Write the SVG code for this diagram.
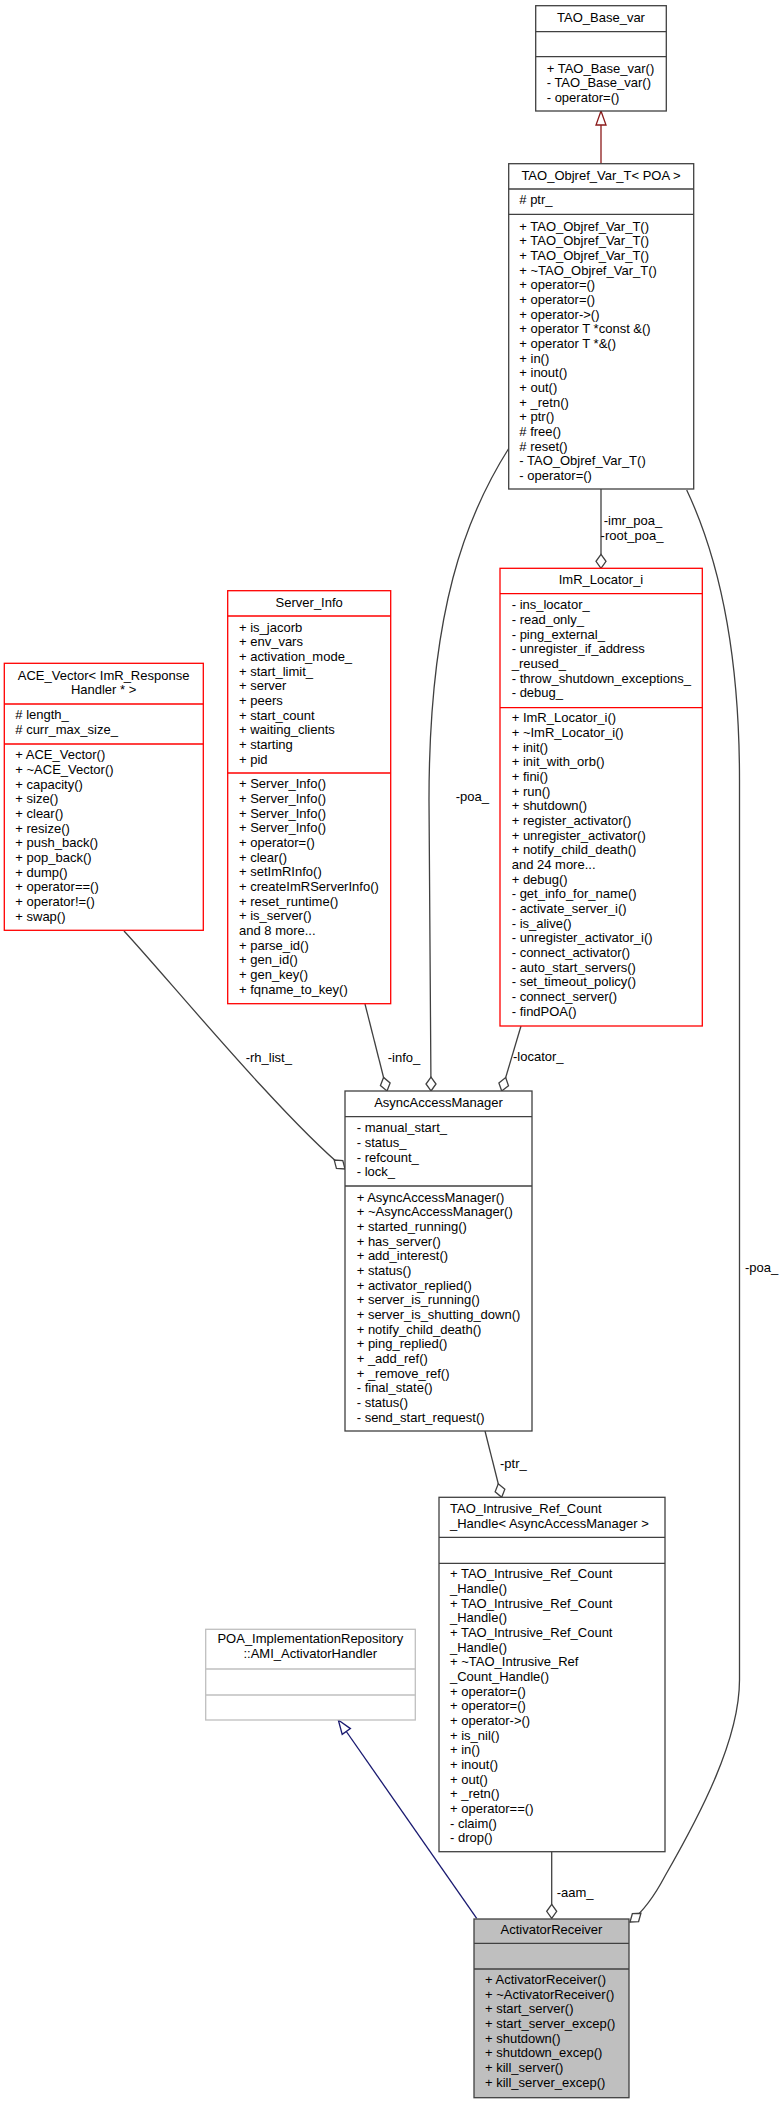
<svg xmlns="http://www.w3.org/2000/svg" width="783" height="2104" viewBox="0 0 783 2104">
<style>
text{font-family:"Liberation Sans",Arial,Helvetica,sans-serif;font-size:13px;fill:#000}
.c{text-anchor:middle}
.box{fill:#fff;stroke:#404040;stroke-width:1.3}
.red{fill:#fff;stroke:#ff0000;stroke-width:1.3}
.gray{fill:#fff;stroke:#bfbfbf;stroke-width:1.3}
.sel{fill:#bfbfbf;stroke:#404040;stroke-width:1.3}
.sep{stroke:#404040;stroke-width:1.3}
.sepr{stroke:#ff0000;stroke-width:1.3}
.sepg{stroke:#bfbfbf;stroke-width:1.3}
.edge{fill:none;stroke:#404040;stroke-width:1.3}
</style>
<defs>
<marker id="dia" viewBox="0 0 16 12" markerWidth="16" markerHeight="12" refX="15" refY="6" orient="auto" markerUnits="userSpaceOnUse" overflow="visible"><path d="M15,6 L8,1 L1,6 L8,11 Z" fill="#fff" stroke="#404040" stroke-width="1.3"/></marker>
<marker id="triR" viewBox="0 0 16 12" markerWidth="16" markerHeight="12" refX="15" refY="6" orient="auto" markerUnits="userSpaceOnUse" overflow="visible"><path d="M15,6 L1,1 L1,11 Z" fill="#fff" stroke="#8b1a1a" stroke-width="1.3"/></marker>
<marker id="triB" viewBox="0 0 16 12" markerWidth="16" markerHeight="12" refX="15" refY="6" orient="auto" markerUnits="userSpaceOnUse" overflow="visible"><path d="M15,6 L1,1 L1,11 Z" fill="#fff" stroke="#191970" stroke-width="1.3"/></marker>
</defs>

<g id="connectors">
<path d="M601,163.7 L601,111" fill="none" stroke="#8b1a1a" stroke-width="1.3" marker-end="url(#triR)"/>
<path class="edge" d="M601,489 L601,568.3" marker-end="url(#dia)"/>
<text x="633" y="525" class="c">-imr_poa_</text>
<text x="632" y="540" class="c">-root_poa_</text>
<path class="edge" d="M509,448 C466,516 429,610 429,800 C429,900 431,1000 431,1091" marker-end="url(#dia)"/>
<text x="455.7" y="801">-poa_</text>
<path class="edge" d="M686.7,490 C715,550 739.5,640 739.5,780 L739.5,1680 C739.5,1740 700,1815 665,1876 C655,1895 645,1910 630,1922" marker-end="url(#dia)"/>
<text x="745" y="1272">-poa_</text>
<path class="edge" d="M365,1004 L387,1091" marker-end="url(#dia)"/>
<text x="387.7" y="1061.7">-info_</text>
<path class="edge" d="M521,1026 L501.7,1091" marker-end="url(#dia)"/>
<text x="513" y="1061">-locator_</text>
<path class="edge" d="M124,931 C165,975 280,1115 345,1169" marker-end="url(#dia)"/>
<text x="245.7" y="1061.7">-rh_list_</text>
<path class="edge" d="M485,1431 L501.7,1497.3" marker-end="url(#dia)"/>
<text x="500" y="1468.3">-ptr_</text>
<path class="edge" d="M551.7,1851.7 L551.7,1918.3" marker-end="url(#dia)"/>
<text x="556.7" y="1896.7">-aam_</text>
<path d="M476.7,1918.3 L338.3,1720" fill="none" stroke="#191970" stroke-width="1.3" marker-end="url(#triB)"/>
</g>

<g id="TAO_Base_var">
<rect class="box" x="535.7" y="5.7" width="130.6" height="105.3"/>
<line class="sep" x1="535.7" y1="31.7" x2="666.3" y2="31.7"/>
<line class="sep" x1="535.7" y1="56.7" x2="666.3" y2="56.7"/>
<text x="601" y="22" class="c">TAO_Base_var</text>
<text x="546.7" y="72.7">+ TAO_Base_var()<tspan x="546.7" dy="14.667">- TAO_Base_var()</tspan><tspan x="546.7" dy="14.667">- operator=()</tspan></text>
</g>

<g id="TAO_Objref_Var_T">
<rect class="box" x="508.7" y="163.7" width="185" height="325.3"/>
<line class="sep" x1="508.7" y1="189" x2="693.7" y2="189"/>
<line class="sep" x1="508.7" y1="214.3" x2="693.7" y2="214.3"/>
<text x="601" y="180" class="c">TAO_Objref_Var_T&lt; POA &gt;</text>
<text x="519.3" y="204.3"># ptr_</text>
<text x="519.3" y="230.7">+ TAO_Objref_Var_T()<tspan x="519.3" dy="14.667">+ TAO_Objref_Var_T()</tspan><tspan x="519.3" dy="14.667">+ TAO_Objref_Var_T()</tspan><tspan x="519.3" dy="14.667">+ ~TAO_Objref_Var_T()</tspan><tspan x="519.3" dy="14.667">+ operator=()</tspan><tspan x="519.3" dy="14.667">+ operator=()</tspan><tspan x="519.3" dy="14.667">+ operator-&gt;()</tspan><tspan x="519.3" dy="14.667">+ operator T *const &amp;()</tspan><tspan x="519.3" dy="14.667">+ operator T *&amp;()</tspan><tspan x="519.3" dy="14.667">+ in()</tspan><tspan x="519.3" dy="14.667">+ inout()</tspan><tspan x="519.3" dy="14.667">+ out()</tspan><tspan x="519.3" dy="14.667">+ _retn()</tspan><tspan x="519.3" dy="14.667">+ ptr()</tspan><tspan x="519.3" dy="14.667"># free()</tspan><tspan x="519.3" dy="14.667"># reset()</tspan><tspan x="519.3" dy="14.667">- TAO_Objref_Var_T()</tspan><tspan x="519.3" dy="14.667">- operator=()</tspan></text>
</g>

<g id="ImR_Locator_i">
<rect class="red" x="500" y="568.3" width="202.3" height="457.7"/>
<line class="sepr" x1="500" y1="593.7" x2="702.3" y2="593.7"/>
<line class="sepr" x1="500" y1="707.7" x2="702.3" y2="707.7"/>
<text x="601" y="584" class="c">ImR_Locator_i</text>
<text x="511.7" y="609.3">- ins_locator_<tspan x="511.7" dy="14.667">- read_only_</tspan><tspan x="511.7" dy="14.667">- ping_external_</tspan><tspan x="511.7" dy="14.667">- unregister_if_address</tspan><tspan x="511.7" dy="14.667">_reused_</tspan><tspan x="511.7" dy="14.667">- throw_shutdown_exceptions_</tspan><tspan x="511.7" dy="14.667">- debug_</tspan></text>
<text x="511.7" y="722.3">+ ImR_Locator_i()<tspan x="511.7" dy="14.667">+ ~ImR_Locator_i()</tspan><tspan x="511.7" dy="14.667">+ init()</tspan><tspan x="511.7" dy="14.667">+ init_with_orb()</tspan><tspan x="511.7" dy="14.667">+ fini()</tspan><tspan x="511.7" dy="14.667">+ run()</tspan><tspan x="511.7" dy="14.667">+ shutdown()</tspan><tspan x="511.7" dy="14.667">+ register_activator()</tspan><tspan x="511.7" dy="14.667">+ unregister_activator()</tspan><tspan x="511.7" dy="14.667">+ notify_child_death()</tspan><tspan x="511.7" dy="14.667">and 24 more...</tspan><tspan x="511.7" dy="14.667">+ debug()</tspan><tspan x="511.7" dy="14.667">- get_info_for_name()</tspan><tspan x="511.7" dy="14.667">- activate_server_i()</tspan><tspan x="511.7" dy="14.667">- is_alive()</tspan><tspan x="511.7" dy="14.667">- unregister_activator_i()</tspan><tspan x="511.7" dy="14.667">- connect_activator()</tspan><tspan x="511.7" dy="14.667">- auto_start_servers()</tspan><tspan x="511.7" dy="14.667">- set_timeout_policy()</tspan><tspan x="511.7" dy="14.667">- connect_server()</tspan><tspan x="511.7" dy="14.667">- findPOA()</tspan></text>
</g>

<g id="Server_Info">
<rect class="red" x="227.7" y="590.7" width="163" height="413"/>
<line class="sepr" x1="227.7" y1="616" x2="390.7" y2="616"/>
<line class="sepr" x1="227.7" y1="773" x2="390.7" y2="773"/>
<text x="309.2" y="606.7" class="c">Server_Info</text>
<text x="239" y="631.7">+ is_jacorb<tspan x="239" dy="14.667">+ env_vars</tspan><tspan x="239" dy="14.667">+ activation_mode_</tspan><tspan x="239" dy="14.667">+ start_limit_</tspan><tspan x="239" dy="14.667">+ server</tspan><tspan x="239" dy="14.667">+ peers</tspan><tspan x="239" dy="14.667">+ start_count</tspan><tspan x="239" dy="14.667">+ waiting_clients</tspan><tspan x="239" dy="14.667">+ starting</tspan><tspan x="239" dy="14.667">+ pid</tspan></text>
<text x="239" y="788.3">+ Server_Info()<tspan x="239" dy="14.667">+ Server_Info()</tspan><tspan x="239" dy="14.667">+ Server_Info()</tspan><tspan x="239" dy="14.667">+ Server_Info()</tspan><tspan x="239" dy="14.667">+ operator=()</tspan><tspan x="239" dy="14.667">+ clear()</tspan><tspan x="239" dy="14.667">+ setImRInfo()</tspan><tspan x="239" dy="14.667">+ createImRServerInfo()</tspan><tspan x="239" dy="14.667">+ reset_runtime()</tspan><tspan x="239" dy="14.667">+ is_server()</tspan><tspan x="239" dy="14.667">and 8 more...</tspan><tspan x="239" dy="14.667">+ parse_id()</tspan><tspan x="239" dy="14.667">+ gen_id()</tspan><tspan x="239" dy="14.667">+ gen_key()</tspan><tspan x="239" dy="14.667">+ fqname_to_key()</tspan></text>
</g>

<g id="ACE_Vector">
<rect class="red" x="4.3" y="663.3" width="199" height="267"/>
<line class="sepr" x1="4.3" y1="704" x2="203.3" y2="704"/>
<line class="sepr" x1="4.3" y1="744" x2="203.3" y2="744"/>
<text x="103.6" y="680" class="c">ACE_Vector&lt; ImR_Response<tspan x="103.6" dy="14.333">Handler * &gt;</tspan></text>
<text x="15.3" y="719.3"># length_<tspan x="15.3" dy="14.667"># curr_max_size_</tspan></text>
<text x="15.3" y="759.3">+ ACE_Vector()<tspan x="15.3" dy="14.667">+ ~ACE_Vector()</tspan><tspan x="15.3" dy="14.667">+ capacity()</tspan><tspan x="15.3" dy="14.667">+ size()</tspan><tspan x="15.3" dy="14.667">+ clear()</tspan><tspan x="15.3" dy="14.667">+ resize()</tspan><tspan x="15.3" dy="14.667">+ push_back()</tspan><tspan x="15.3" dy="14.667">+ pop_back()</tspan><tspan x="15.3" dy="14.667">+ dump()</tspan><tspan x="15.3" dy="14.667">+ operator==()</tspan><tspan x="15.3" dy="14.667">+ operator!=()</tspan><tspan x="15.3" dy="14.667">+ swap()</tspan></text>
</g>

<g id="AsyncAccessManager">
<rect class="box" x="345" y="1091" width="187" height="340"/>
<line class="sep" x1="345" y1="1116.7" x2="532" y2="1116.7"/>
<line class="sep" x1="345" y1="1186" x2="532" y2="1186"/>
<text x="438.5" y="1106.7" class="c">AsyncAccessManager</text>
<text x="356.7" y="1132.3">- manual_start_<tspan x="356.7" dy="14.667">- status_</tspan><tspan x="356.7" dy="14.667">- refcount_</tspan><tspan x="356.7" dy="14.667">- lock_</tspan></text>
<text x="356.7" y="1201.7">+ AsyncAccessManager()<tspan x="356.7" dy="14.667">+ ~AsyncAccessManager()</tspan><tspan x="356.7" dy="14.667">+ started_running()</tspan><tspan x="356.7" dy="14.667">+ has_server()</tspan><tspan x="356.7" dy="14.667">+ add_interest()</tspan><tspan x="356.7" dy="14.667">+ status()</tspan><tspan x="356.7" dy="14.667">+ activator_replied()</tspan><tspan x="356.7" dy="14.667">+ server_is_running()</tspan><tspan x="356.7" dy="14.667">+ server_is_shutting_down()</tspan><tspan x="356.7" dy="14.667">+ notify_child_death()</tspan><tspan x="356.7" dy="14.667">+ ping_replied()</tspan><tspan x="356.7" dy="14.667">+ _add_ref()</tspan><tspan x="356.7" dy="14.667">+ _remove_ref()</tspan><tspan x="356.7" dy="14.667">- final_state()</tspan><tspan x="356.7" dy="14.667">- status()</tspan><tspan x="356.7" dy="14.667">- send_start_request()</tspan></text>
</g>

<g id="TAO_Intrusive_Ref_Count_Handle">
<rect class="box" x="439" y="1497.3" width="226" height="354.4"/>
<line class="sep" x1="439" y1="1537.3" x2="665" y2="1537.3"/>
<line class="sep" x1="439" y1="1563.3" x2="665" y2="1563.3"/>
<text x="450" y="1513.3">TAO_Intrusive_Ref_Count<tspan x="450" dy="14.4">_Handle&lt; AsyncAccessManager &gt;</tspan></text>
<text x="450" y="1578.3">+ TAO_Intrusive_Ref_Count<tspan x="450" dy="14.667">_Handle()</tspan><tspan x="450" dy="14.667">+ TAO_Intrusive_Ref_Count</tspan><tspan x="450" dy="14.667">_Handle()</tspan><tspan x="450" dy="14.667">+ TAO_Intrusive_Ref_Count</tspan><tspan x="450" dy="14.667">_Handle()</tspan><tspan x="450" dy="14.667">+ ~TAO_Intrusive_Ref</tspan><tspan x="450" dy="14.667">_Count_Handle()</tspan><tspan x="450" dy="14.667">+ operator=()</tspan><tspan x="450" dy="14.667">+ operator=()</tspan><tspan x="450" dy="14.667">+ operator-&gt;()</tspan><tspan x="450" dy="14.667">+ is_nil()</tspan><tspan x="450" dy="14.667">+ in()</tspan><tspan x="450" dy="14.667">+ inout()</tspan><tspan x="450" dy="14.667">+ out()</tspan><tspan x="450" dy="14.667">+ _retn()</tspan><tspan x="450" dy="14.667">+ operator==()</tspan><tspan x="450" dy="14.667">- claim()</tspan><tspan x="450" dy="14.667">- drop()</tspan></text>
</g>

<g id="POA_ImplementationRepository_AMI_ActivatorHandler">
<rect class="gray" x="205.7" y="1629.3" width="209.6" height="90.7"/>
<line class="sepg" x1="205.7" y1="1669" x2="415.3" y2="1669"/>
<line class="sepg" x1="205.7" y1="1695" x2="415.3" y2="1695"/>
<text x="310.3" y="1643.3" class="c">POA_ImplementationRepository<tspan x="310.3" dy="15">::AMI_ActivatorHandler</tspan></text>
</g>

<g id="ActivatorReceiver">
<rect class="sel" x="474" y="1919" width="155" height="178.7"/>
<line class="sep" x1="474" y1="1943.3" x2="629" y2="1943.3"/>
<line class="sep" x1="474" y1="1969" x2="629" y2="1969"/>
<text x="551.5" y="1934.3" class="c">ActivatorReceiver</text>
<text x="485" y="1984">+ ActivatorReceiver()<tspan x="485" dy="14.667">+ ~ActivatorReceiver()</tspan><tspan x="485" dy="14.667">+ start_server()</tspan><tspan x="485" dy="14.667">+ start_server_excep()</tspan><tspan x="485" dy="14.667">+ shutdown()</tspan><tspan x="485" dy="14.667">+ shutdown_excep()</tspan><tspan x="485" dy="14.667">+ kill_server()</tspan><tspan x="485" dy="14.667">+ kill_server_excep()</tspan></text>
</g>
</svg>
